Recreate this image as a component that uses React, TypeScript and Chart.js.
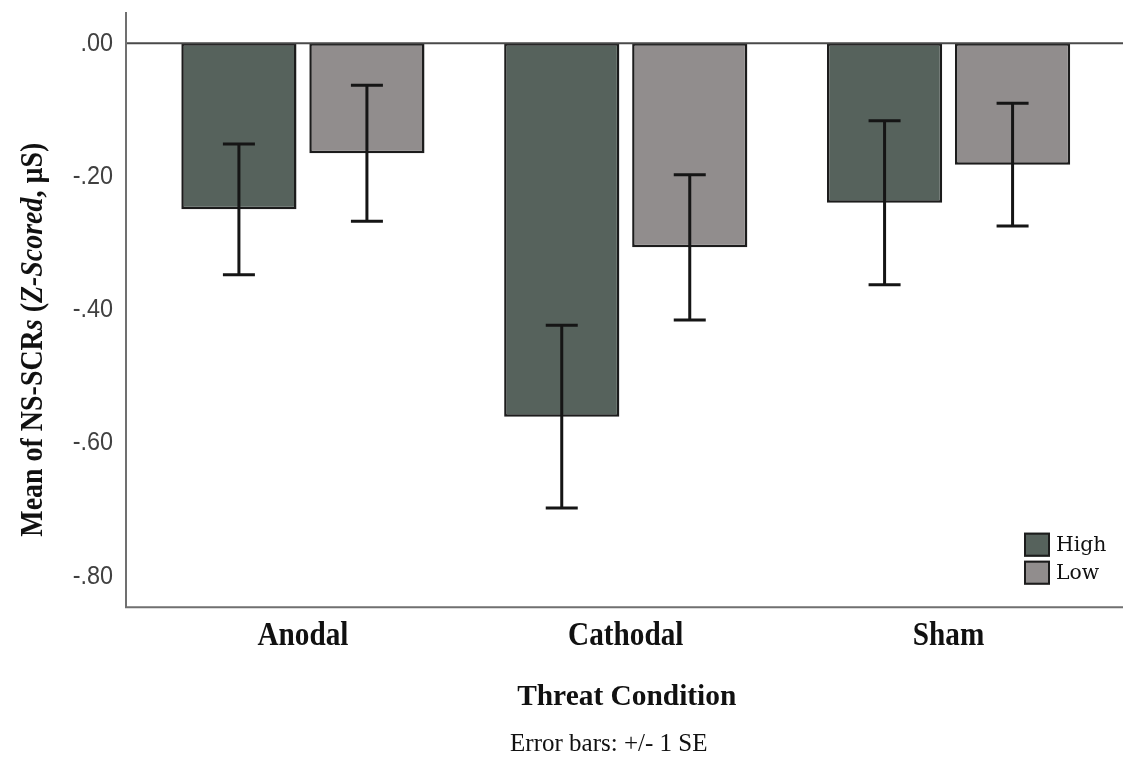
import React, { useEffect, useRef } from 'react';
import { Chart, registerables } from 'chart.js';

Chart.register(...registerables);

// ---- data ----
const categories = ['Anodal', 'Cathodal', 'Sham'];
const seriesNames = ['High', 'Low'];
const highMeans = [-0.249, -0.56, -0.239];
const lowMeans = [-0.165, -0.306, -0.182];
const highSE = [0.098, 0.137, 0.123];
const lowSE = [0.102, 0.109, 0.092];
const yTicks = [0, -0.2, -0.4, -0.6, -0.8];
const yTickLabels = ['.00', '-.20', '-.40', '-.60', '-.80'];

const xTitle = 'Threat Condition';
const footNote = 'Error bars: +/- 1 SE';
// y title pieces: [text, italic]
const yTitleParts: [string, boolean][] = [
  ['Mean of NS-SCR', false],
  ['s', true],
  [' (', false],
  ['Z-Scored', true],
  [', \u00B5S)', false],
];

// ---- styles ----
const HIGH_FILL = '#56625c';
const LOW_FILL = '#918d8d';
const EDGE = '#1c1c1c';
const AXIS_COLOR = '#707070';
const ZERO_COLOR = '#4a4a4a';
const SERIF = '"Liberation Serif", "Times New Roman", serif';
const SANS = '"Liberation Sans", Arial, sans-serif';

const seriesErrors = [highSE, lowSE];

// Draw text squeezed horizontally by a factor.
function squeezed(
  ctx: CanvasRenderingContext2D,
  text: string,
  x: number,
  y: number,
  font: string,
  sx: number,
  align: CanvasTextAlign,
  baseline: CanvasTextBaseline = 'alphabetic'
) {
  ctx.save();
  ctx.font = font;
  ctx.textAlign = align;
  ctx.textBaseline = baseline;
  ctx.translate(x, y);
  ctx.scale(sx, 1);
  ctx.fillText(text, 0, 0);
  ctx.restore();
}

const framePlugin = {
  id: 'frame',
  afterDatasetsDraw(chart: any) {
    const { ctx, chartArea } = chart;
    const yScale = chart.scales.y;
    const axisX = chartArea.left - 15.5;
    const rightX = chartArea.right + 13;
    const y0 = yScale.getPixelForValue(0);

    ctx.save();
    // zero reference line
    ctx.strokeStyle = ZERO_COLOR;
    ctx.lineWidth = 2;
    ctx.beginPath();
    ctx.moveTo(axisX, y0);
    ctx.lineTo(rightX, y0);
    ctx.stroke();

    // axes
    ctx.strokeStyle = AXIS_COLOR;
    ctx.lineWidth = 2;
    ctx.beginPath();
    ctx.moveTo(axisX, chartArea.top);
    ctx.lineTo(axisX, chartArea.bottom);
    ctx.lineTo(rightX, chartArea.bottom);
    ctx.stroke();

    // error bars (+/- 1 SE)
    ctx.strokeStyle = '#151515';
    ctx.lineWidth = 3;
    const capHalf = 16;
    chart.data.datasets.forEach((ds: any, d: number) => {
      const meta = chart.getDatasetMeta(d);
      meta.data.forEach((bar: any, i: number) => {
        const m = ds.data[i];
        const se = seriesErrors[d][i];
        const yHi = yScale.getPixelForValue(m + se);
        const yLo = yScale.getPixelForValue(m - se);
        const x = bar.x;
        ctx.beginPath();
        ctx.moveTo(x, yHi);
        ctx.lineTo(x, yLo);
        ctx.moveTo(x - capHalf, yHi);
        ctx.lineTo(x + capHalf, yHi);
        ctx.moveTo(x - capHalf, yLo);
        ctx.lineTo(x + capHalf, yLo);
        ctx.stroke();
      });
    });
    ctx.restore();
  },
  afterDraw(chart: any) {
    const { ctx, chartArea } = chart;
    const yScale = chart.scales.y;
    const xScale = chart.scales.x;
    const axisX = chartArea.left - 15.5;

    ctx.save();
    // y tick labels
    ctx.fillStyle = '#404040';
    yTicks.forEach((v, i) => {
      squeezed(ctx, yTickLabels[i], axisX - 13, yScale.getPixelForValue(v), `26px ${SANS}`, 0.9, 'right', 'middle');
    });

    // category labels
    ctx.fillStyle = '#111';
    categories.forEach((c, i) => {
      squeezed(ctx, c, xScale.getPixelForValue(i), chartArea.bottom + 38, `bold 34px ${SERIF}`, 0.86, 'center');
    });

    // x title and footnote
    const midX = (chartArea.left + chartArea.right) / 2;
    squeezed(ctx, xTitle, midX + 1, chartArea.bottom + 98, `bold 30px ${SERIF}`, 0.98, 'center');
    squeezed(ctx, footNote, midX - 17, chartArea.bottom + 144, `25px ${SERIF}`, 1.0, 'center');

    // y title (rotated, mixed italic)
    const fontFor = (it: boolean) => `${it ? 'italic ' : ''}bold 31px ${SERIF}`;
    let total = 0;
    const widths = yTitleParts.map(([t, it]) => {
      ctx.font = fontFor(it);
      const w = ctx.measureText(t).width;
      total += w;
      return w;
    });
    const targetLen = 394;
    const cy = (chartArea.top + chartArea.bottom) / 2 + 30;
    ctx.save();
    ctx.translate(42, cy);
    ctx.rotate(-Math.PI / 2);
    ctx.scale(targetLen / total, 1);
    ctx.textAlign = 'left';
    ctx.textBaseline = 'alphabetic';
    let cx = -total / 2;
    yTitleParts.forEach(([t, it], k) => {
      ctx.font = fontFor(it);
      ctx.fillText(t, cx, 0);
      cx += widths[k];
    });
    ctx.restore();

    // legend
    const fills = [HIGH_FILL, LOW_FILL];
    const lx = chartArea.right - 86;
    const rowTops = [chartArea.bottom - 74.6, chartArea.bottom - 46.6];
    seriesNames.forEach((name, k) => {
      const top = rowTops[k];
      ctx.fillStyle = fills[k];
      ctx.fillRect(lx, top, 26, 24);
      ctx.strokeStyle = EDGE;
      ctx.lineWidth = 2;
      ctx.strokeRect(lx + 1, top + 1, 24, 22);
      ctx.fillStyle = '#111';
      squeezed(ctx, name, lx + 32, top + 13, `21px "DejaVu Serif", ${SERIF}`, 0.97, 'left', 'middle');
    });
    ctx.restore();
  },
};

export default function App() {
  const canvasRef = useRef<HTMLCanvasElement | null>(null);

  useEffect(() => {
    const canvas = canvasRef.current;
    if (!canvas) return;
    const chart = new Chart(canvas, {
      type: 'bar',
      data: {
        labels: categories,
        datasets: [
          {
            label: seriesNames[0],
            data: highMeans,
            backgroundColor: HIGH_FILL,
            borderColor: EDGE,
            borderWidth: 2.5,
            borderSkipped: false,
          },
          {
            label: seriesNames[1],
            data: lowMeans,
            backgroundColor: LOW_FILL,
            borderColor: EDGE,
            borderWidth: 2.5,
            borderSkipped: false,
          },
        ],
      },
      options: {
        responsive: false,
        animation: false,
        devicePixelRatio: 1,
        layout: { padding: { left: 141.5, right: 16, top: 12, bottom: 150.7 } },
        datasets: { bar: { barPercentage: 0.9, categoryPercentage: 0.793 } },
        scales: {
          x: { display: false, offset: true },
          y: { display: false, min: -0.846, max: 0.047 },
        },
        plugins: {
          legend: { display: false },
          tooltip: { enabled: false },
          title: { display: false },
        },
      },
      plugins: [framePlugin],
    });
    return () => chart.destroy();
  }, []);

  return (
    <div style={{ position: 'absolute', left: 0, top: 0, width: 1126, height: 758, background: '#fff' }}>
      <canvas ref={canvasRef} width={1126} height={758} />
    </div>
  );
}
